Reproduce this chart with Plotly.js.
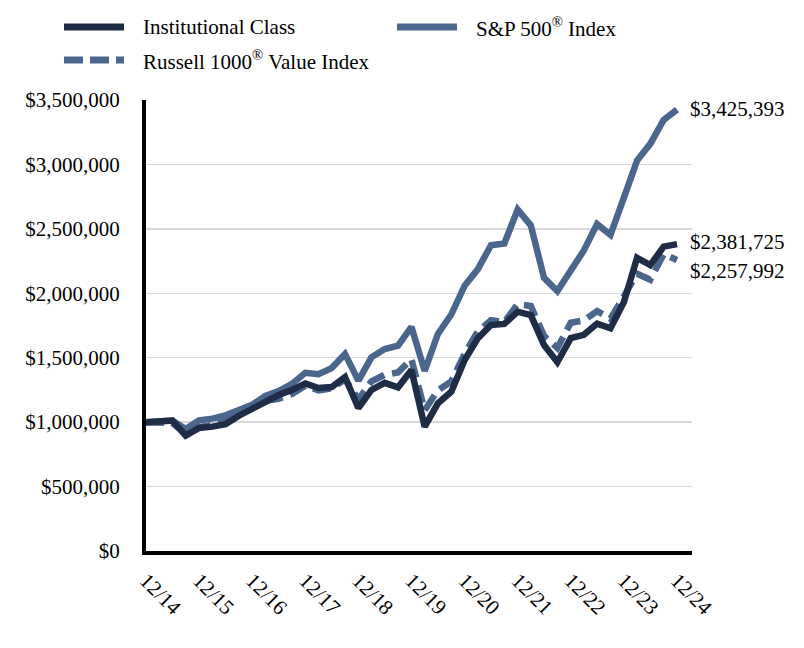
<!DOCTYPE html>
<html>
<head>
<meta charset="utf-8">
<script src="https://cdn.plot.ly/plotly-3.0.1.min.js"></script>
<style>html,body{margin:0;padding:0;background:#fff}#chart{width:804px;height:648px}</style>
</head>
<body>
<div id="chart"></div>
<script>
// Quarter-end dates
const quarters = [
  "2014-12-31","2015-03-31","2015-06-30","2015-09-30","2015-12-31",
  "2016-03-31","2016-06-30","2016-09-30","2016-12-31",
  "2017-03-31","2017-06-30","2017-09-30","2017-12-31",
  "2018-03-31","2018-06-30","2018-09-30","2018-12-31",
  "2019-03-31","2019-06-30","2019-09-30","2019-12-31",
  "2020-03-31","2020-06-30","2020-09-30","2020-12-31",
  "2021-03-31","2021-06-30","2021-09-30","2021-12-31",
  "2022-03-31","2022-06-30","2022-09-30","2022-12-31",
  "2023-03-31","2023-06-30","2023-09-30","2023-12-31",
  "2024-03-31","2024-06-30","2024-09-30","2024-12-31"
];
const seriesNames = ["Institutional Class", "S&P 500<sup>®</sup> Index", "Russell 1000<sup>®</sup> Value Index"];
const institutional = [1000000,1005000,1012000,895000,955000,965000,985000,1050000,1105000,1165000,1210000,1250000,1300000,1265000,1272000,1350000,1110000,1250000,1305000,1270000,1405000,965000,1146000,1236000,1482000,1650000,1754000,1762000,1857000,1831000,1599000,1465000,1652000,1678000,1765000,1728000,1930000,2275000,2219000,2362000,2381725];
const sp500 = [1000000,1009500,1012300,947000,1013800,1027500,1052800,1093400,1135100,1204000,1241200,1296800,1382900,1372300,1419400,1528900,1322300,1502800,1567400,1594000,1738600,1397800,1684900,1835400,2058500,2185500,2372400,2386200,2649500,2527600,2120800,2017300,2169900,2332600,2536500,2453500,2740400,3029800,3159400,3345500,3425393];
const russell = [1000000,992800,993900,910500,961800,977500,1022300,1057900,1128500,1165400,1181000,1217700,1282600,1246300,1261000,1332900,1176700,1317100,1367700,1386300,1489000,1091000,1246900,1316600,1530600,1703000,1791700,1777700,1915800,1901600,1669400,1575600,1771300,1789200,1862100,1803300,1974700,2152200,2105500,2304000,2257992];
const tickDates = ["2014-12-31","2015-12-31","2016-12-31","2017-12-31","2018-12-31","2019-12-31","2020-12-31","2021-12-31","2022-12-31","2023-12-31","2024-12-31"];
const tickLabels = ["12/14","12/15","12/16","12/17","12/18","12/19","12/20","12/21","12/22","12/23","12/24"];

const DARK = "#1e2c46";
const BLUE = "#4a668c";
const FONT = "'Liberation Serif', 'Times New Roman', serif";
const FS = 21;

function money(v){ return "$" + Math.round(v).toLocaleString("en-US"); }

const traces = [
  {x: quarters, y: sp500, name: seriesNames[1], mode: "lines", line: {color: BLUE, width: 6.5}},
  {x: quarters, y: russell, name: seriesNames[2], mode: "lines", line: {color: BLUE, width: 6.5, dash: "18px,8px"}},
  {x: quarters, y: institutional, name: seriesNames[0], mode: "lines", line: {color: DARK, width: 6.5}}
];

const L = 146, W = 546, T = 100, H = 451;
function px(x){ return (x - L) / W; }
function py(y){ return (T + H - y) / H; }

const last = quarters.length - 1;
const annotations = [
  {x: quarters[last], y: sp500[last], text: money(sp500[last]), xanchor: "left", yanchor: "middle", xshift: 11, yshift: 1},
  {x: quarters[last], y: institutional[last], text: money(institutional[last]), xanchor: "left", yanchor: "middle", xshift: 11, yshift: 2},
  {x: quarters[last], y: russell[last], text: money(russell[last]), xanchor: "left", yanchor: "middle", xshift: 11, yshift: -11}
].map(a => Object.assign({xref: "x", yref: "y", showarrow: false, font: {family: FONT, size: FS, color: "#000"}}, a));

// manual legend
const legendItems = [
  {lx: 64, ly: 27, color: DARK, dash: "solid", text: seriesNames[0]},
  {lx: 397, ly: 27, color: BLUE, dash: "solid", text: seriesNames[1]},
  {lx: 64, ly: 60, color: BLUE, dash: "19px,7px", text: seriesNames[2]}
];
const shapes = [];
legendItems.forEach(it => {
  shapes.push({type: "line", xref: "paper", yref: "paper", x0: px(it.lx), x1: px(it.lx + 60), y0: py(it.ly), y1: py(it.ly), line: {color: it.color, width: 7, dash: it.dash}});
  annotations.push({xref: "paper", yref: "paper", x: px(it.lx + 77), y: py(it.ly), xanchor: "left", yanchor: "middle", showarrow: false, text: it.text, font: {family: FONT, size: FS, color: "#000"}});
});

const layout = {
  width: 804, height: 648,
  margin: {l: L, r: 804 - L - W, t: T, b: 648 - T - H},
  paper_bgcolor: "#fff", plot_bgcolor: "#fff",
  showlegend: false,
  font: {family: FONT, size: FS, color: "#000"},
  xaxis: {
    type: "date",
    range: ["2014-12-31", "2025-04-13"],
    tickvals: tickDates, ticktext: tickLabels,
    tickangle: 45,
    showgrid: false, zeroline: false,
    showline: true, linecolor: "#000", linewidth: 4,
    ticks: "", ticklabelstandoff: 5,
    tickfont: {family: FONT, size: FS, color: "#000"}
  },
  yaxis: {
    range: [0, 3500000], dtick: 500000, tick0: 0,
    tickformat: "$,.0f",
    showgrid: true, gridcolor: "#d9d9d9", gridwidth: 1.5,
    zeroline: false,
    showline: true, linecolor: "#000", linewidth: 4,
    ticks: "", ticklabelstandoff: 18,
    tickfont: {family: FONT, size: FS, color: "#000"}
  },
  shapes: shapes,
  annotations: annotations
};

Plotly.newPlot("chart", traces, layout, {staticPlot: true, displayModeBar: false});
</script>
</body>
</html>
